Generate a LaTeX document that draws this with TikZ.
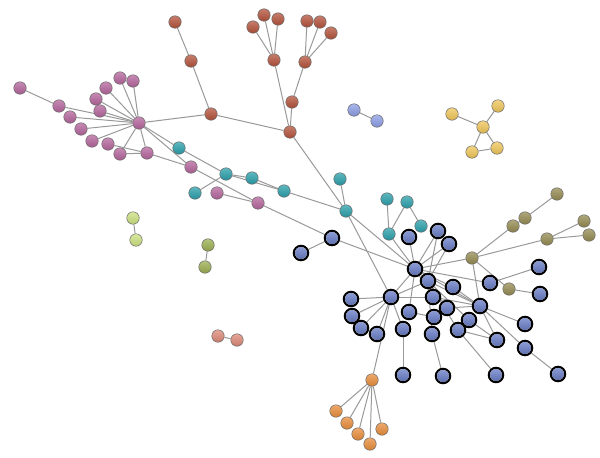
\documentclass[tikz,border=0pt]{standalone}
\usetikzlibrary{backgrounds}
\definecolor{pinkc}{HTML}{B5649C}
\definecolor{redc}{HTML}{B4523A}
\definecolor{tealc}{HTML}{2AA0AB}
\definecolor{bluec}{HTML}{6A7FCC}
\definecolor{olivec}{HTML}{948A50}
\definecolor{orangec}{HTML}{E98D3A}
\definecolor{yellowc}{HTML}{F0C659}
\definecolor{lavc}{HTML}{8C9EE6}
\definecolor{lgreenc}{HTML}{CCE27F}
\definecolor{ogreenc}{HTML}{9BAF4F}
\definecolor{salmonc}{HTML}{DD8877}
\definecolor{edgec}{HTML}{999999}
\tikzset{
  nd/.style={circle, minimum size=12.5pt, inner sep=0pt, draw=gray!85!black, line width=0.5pt, top color=#1!75!white, bottom color=#1!90!black},
  bl/.style={circle, minimum size=14.5pt, inner sep=0pt, draw=black, line width=2pt, fill=gray!10,
    path picture={\shade[top color=bluec!75!white, bottom color=bluec!85!black] (path picture bounding box.center) circle (6pt);}},
  ed/.style={draw=edgec, line width=1pt}
}
\begin{document}
\begin{tikzpicture}[x=1pt,y=-1pt]
\useasboundingbox (0,0) rectangle (600,458);
% pink
\node[nd=pinkc] (ph) at (139,123) {};
\foreach \n/\x/\y in {p1/20/88,p2/59/106,p3/70/117,p4/81/129,p5/92/141,p6/108/144,p7/120/154,p8/147/153,p9/100/111,p10/96/99,p11/106/88,p12/120/78,p13/133/81,p14/191/167,p15/217/193,p16/258/203}
  \node[nd=pinkc] (\n) at (\x,\y) {};
% red
\foreach \n/\x/\y in {r1/175/22,r2/191/61,r3/211/114,r4/253/27,r5/264/15,r6/278/19,r7/274/60,r8/307/21,r9/320/22,r10/331/33,r11/305/62,r12/292/102,r13/290/132}
  \node[nd=redc] (\n) at (\x,\y) {};
% teal
\foreach \n/\x/\y in {t1/179/148,t2/226/174,t3/252/178,t4/284/191,t5/195/193,t6/340/179,t7/346/211,t8/387/199,t9/407/202,t10/421/226,t11/389/234}
  \node[nd=tealc] (\n) at (\x,\y) {};
% olive
\foreach \n/\x/\y in {o1/472/258,o2/509/289,o3/513/226,o4/525/218,o5/557/194,o6/547/239,o7/584/221,o8/589/235}
  \node[nd=olivec] (\n) at (\x,\y) {};
% orange
\foreach \n/\x/\y in {or/372/380,or1/336/411,or2/347/423,or3/358/434,or4/370/444,or5/382/429}
  \node[nd=orangec] (\n) at (\x,\y) {};
% small groups
\node[nd=lavc] (l1) at (354,110) {};
\node[nd=lavc] (l2) at (377,121) {};
\foreach \n/\x/\y in {y1/452/114,y2/498/106,y3/483/127,y4/472/152,y5/497/148}
  \node[nd=yellowc] (\n) at (\x,\y) {};
\node[nd=lgreenc] (g1) at (133,218) {};
\node[nd=lgreenc] (g2) at (136,240) {};
\node[nd=ogreenc] (h1) at (208,245) {};
\node[nd=ogreenc] (h2) at (205,267) {};
\node[nd=salmonc] (s1) at (218,336) {};
\node[nd=salmonc] (s2) at (237,340) {};
% blue
\foreach \n/\x/\y in {b1/301/253,b2/332/238,b3/409/237,b4/438/231,b5/449/244,b6/415/269,b7/428/281,b8/453/287,b9/490/283,b10/539/267,b11/540/294,b12/351/299,b13/391/297,b14/433/297,b15/447/308,b16/480/306,b17/352/316,b18/409/312,b19/434/317,b20/469/320,b21/361/328,b22/377/334,b23/403/329,b24/432/334,b25/458/330,b26/525/324,b27/497/340,b28/525/348,b29/403/375,b30/443/376,b31/496/375,b32/558/374}
  \node[bl] (\n) at (\x,\y) {};
\begin{scope}[on background layer]
\foreach \a/\b in {p1/p2,p2/ph,p3/ph,p4/ph,p5/ph,p6/p8,p7/p8,p7/ph,p8/ph,p9/ph,p10/ph,p11/ph,p12/ph,p13/ph,
  ph/r3,ph/t1,ph/p14,p8/p14,p14/p16,p15/p16,p16/b2,
  r1/r2,r2/r3,r3/r13,r4/r7,r5/r7,r6/r7,r8/r11,r9/r11,r10/r11,r7/r13,r11/r12,r12/r13,r13/t7,
  t1/t2,t2/t3,t3/t4,t2/t4,t5/t2,t4/t7,t6/t7,t7/b13,t7/b6,t8/t11,t9/t11,t9/t10,t11/b6,
  b1/b2,b2/b6,b3/b6,b4/b6,b5/b6,o1/b6,b6/b13,b6/b7,b6/b16,b6/b9,b6/b18,b6/b14,b4/b7,b5/b7,
  b7/b13,b7/b16,b7/b20,b7/b15,b7/b25,b7/b24,b8/b16,b8/b6,
  b13/b12,b13/b17,b13/b21,b13/b22,b13/b23,b13/b14,b13/or,
  b19/b18,b24/b30,b23/b29,b25/b31,b25/b27,b16/b26,b16/b27,b16/b28,b20/b27,b28/b32,
  b9/b10,o2/b11,o1/o2,o1/b16,b14/b16,b15/b16,
  o1/o3,o3/o4,o4/o5,o1/o6,o6/o7,o6/o8,
  or/or1,or/or2,or/or3,or/or4,or/or5,
  l1/l2,y1/y3,y2/y3,y3/y4,y3/y5,y4/y5,g1/g2,h1/h2,s1/s2}
  \draw[ed] (\a) -- (\b);
\end{scope}
\end{tikzpicture}
\end{document}
